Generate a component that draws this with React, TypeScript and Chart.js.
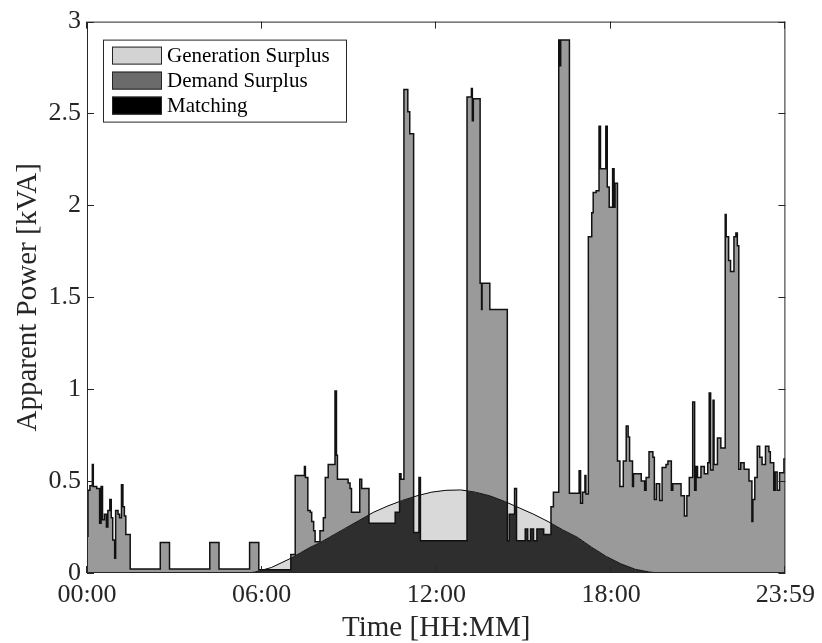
import React, { useEffect, useRef } from 'react';
import { Chart, registerables } from 'chart.js';

Chart.register(...registerables);

// Demand profile: minute of day where a new value starts (held until the next point)
const demandMinutes = [
  0, 2, 6, 11, 13, 20, 26, 29, 32, 36, 40, 43, 47, 50, 53, 57, 59, 64, 67, 71, 74, 77, 80, 89,
  151, 170, 253, 272, 335, 354,
  420, 429, 448, 450, 455, 460, 463, 467, 470, 480, 487, 491, 497, 511, 514, 516, 538, 542, 545,
  562, 566, 581, 635, 644, 647, 653, 661, 665, 673, 684, 687,
  783, 792, 794, 796, 810, 813, 814, 830, 866, 870, 881, 885, 903, 908, 914, 920, 927, 941,
  956, 961, 972, 975, 976, 994, 1014, 1017, 1021, 1026, 1028,
  1033, 1040, 1043, 1049, 1055, 1058, 1069, 1072, 1076, 1083, 1086, 1088,
  1093, 1098, 1105, 1111, 1115, 1118, 1124, 1126, 1142, 1149, 1152, 1158, 1166, 1169, 1173,
  1180, 1185, 1193, 1197, 1204, 1207, 1224, 1231, 1236, 1241, 1248, 1252, 1255, 1258, 1265,
  1272, 1279, 1282, 1285, 1290, 1292, 1299, 1306,
  1315, 1317, 1322, 1326, 1333, 1337, 1340,
  1343, 1347, 1354, 1364, 1370, 1372, 1376, 1381, 1386, 1391, 1398, 1405, 1408, 1415, 1418,
  1422, 1427, 1436, 1439,
];
const demandValues = [
  0.2, 0.45, 0.475, 0.59, 0.47, 0.46, 0.27, 0.47, 0.29, 0.32, 0.25, 0.34, 0.4, 0.3, 0.18, 0.08, 0.34, 0.32, 0.3, 0.48, 0.36, 0.31, 0.21, 0.022,
  0.166, 0.022, 0.166, 0.022, 0.166, 0.018,
  0.1, 0.53, 0.58, 0.52, 0.34, 0.33, 0.28, 0.23, 0.17, 0.23, 0.3, 0.52, 0.59, 0.99, 0.64, 0.51, 0.49, 0.46, 0.33,
  0.51, 0.46, 0.27, 0.33, 0.54, 0.51, 2.63, 2.51, 2.39, 0.22, 0.52, 0.175,
  2.59, 2.636, 2.46, 2.58, 1.576, 1.433, 1.576, 1.433, 0.175, 0.32, 0.46, 0.175, 0.24, 0.175, 0.24, 0.175, 0.24, 0.21,
  0.36, 0.44, 2.9, 2.76, 2.9, 0.434, 0.556, 0.38, 0.44, 0.53, 0.43,
  1.83, 1.96, 2.07, 2.08, 2.43, 2.2, 2.43, 2.1, 1.99, 2.2, 1.99, 2.12,
  0.61, 0.47, 0.61, 0.8, 0.74, 0.61, 0.47, 0.54, 0.5, 0.45, 0.52, 0.66, 0.63, 0.4, 0.485,
  0.395, 0.574, 0.59, 0.61, 0.45, 0.485, 0.42, 0.31, 0.42, 0.52, 0.93, 0.45, 0.58, 0.52, 0.58,
  0.54, 0.6, 0.98, 0.56, 0.94, 0.59, 0.735, 0.68,
  1.95, 1.83, 1.7, 1.64, 1.83, 1.85, 1.78,
  0.565, 0.6, 0.565, 0.5, 0.28, 0.4, 0.52, 0.69, 0.63, 0.59, 0.69, 0.66, 0.6, 0.45, 0.55,
  0.45, 0.545, 0.62, 0.62,
];

// PV generation profile
const generationMinutes = [
  0, 330, 345, 360, 380, 400, 420, 440, 460, 480, 500, 530, 560, 590, 620, 650, 680, 710, 740,
  770, 800, 830, 860, 890, 920, 950, 980, 1010, 1040, 1070, 1100, 1130, 1160, 1180, 1439,
];
const generationValues = [
  0, 0, 0.005, 0.015, 0.03, 0.055, 0.08, 0.11, 0.14, 0.165, 0.195, 0.24, 0.285, 0.33, 0.365, 0.395, 0.42, 0.44, 0.45,
  0.452, 0.44, 0.42, 0.39, 0.355, 0.32, 0.28, 0.235, 0.195, 0.14, 0.09, 0.05, 0.02, 0.005, 0, 0,
];

const xTickValues = [0, 360, 720, 1080, 1439];
const xTickLabels = ['00:00', '06:00', '12:00', '18:00', '23:59'];
const yTickValues = [0, 0.5, 1, 1.5, 2, 2.5, 3];

const legendLabels = ['Generation Surplus', 'Demand Surplus', 'Matching'];
const legendColors = ['#d3d3d3', '#6b6b6b', '#000000'];

const FONT = "'Liberation Serif', 'Times New Roman', serif";

const framePlugin = {
  id: 'frame',
  afterDatasetsDraw(chart: any) {
    const { ctx, chartArea, scales } = chart;
    const { left, right, top, bottom } = chartArea;
    ctx.save();
    ctx.strokeStyle = '#262626';
    ctx.lineWidth = 1;
    ctx.strokeRect(left + 0.5, top + 0.5, right - left - 1, bottom - top - 1);
    ctx.beginPath();
    xTickValues.forEach((v) => {
      const px = Math.round(scales.x.getPixelForValue(v)) - 0.5;
      ctx.moveTo(px, bottom);
      ctx.lineTo(px, bottom - 7);
      ctx.moveTo(px, top);
      ctx.lineTo(px, top + 7);
    });
    yTickValues.forEach((v) => {
      const py = Math.round(scales.y.getPixelForValue(v)) + 0.5;
      ctx.moveTo(left, py);
      ctx.lineTo(left + 7, py);
      ctx.moveTo(right, py);
      ctx.lineTo(right - 7, py);
    });
    ctx.stroke();
    ctx.restore();
  },
};

const legendPlugin = {
  id: 'boxLegend',
  afterDraw(chart: any) {
    const { ctx, chartArea } = chart;
    const bx = chartArea.left + 16;
    const by = chartArea.top + 18;
    const bw = 244;
    const bh = 83;
    ctx.save();
    ctx.fillStyle = '#ffffff';
    ctx.fillRect(bx, by, bw, bh);
    ctx.strokeStyle = '#262626';
    ctx.lineWidth = 1;
    ctx.strokeRect(bx + 0.5, by + 0.5, bw - 1, bh - 1);
    ctx.font = `21px ${FONT}`;
    ctx.textBaseline = 'middle';
    ctx.textAlign = 'left';
    legendLabels.forEach((label, i) => {
      const cy = by + 16 + i * 25;
      ctx.fillStyle = legendColors[i];
      ctx.fillRect(bx + 9, cy - 9, 50, 18);
      ctx.strokeStyle = '#262626';
      ctx.strokeRect(bx + 9.5, cy - 8.5, 49, 17);
      ctx.fillStyle = '#000000';
      ctx.fillText(label, bx + 64, cy + 1);
    });
    ctx.restore();
  },
};

export default function App() {
  const canvasRef = useRef<HTMLCanvasElement | null>(null);

  useEffect(() => {
    if (!canvasRef.current) return;
    const demand = demandMinutes.map((m, i) => ({ x: m, y: demandValues[i] }));
    const generation = generationMinutes.map((m, i) => ({ x: m, y: generationValues[i] }));

    const chart = new Chart(canvasRef.current, {
      type: 'line',
      data: {
        datasets: [
          {
            label: 'Generation line',
            data: generation,
            borderColor: '#111111',
            borderWidth: 1,
            pointRadius: 0,
            fill: false,
            tension: 0,
          },
          {
            label: 'Demand',
            data: demand,
            stepped: true,
            borderColor: '#111111',
            borderWidth: 1.5,
            pointRadius: 0,
            backgroundColor: '#9a9a9a',
            fill: { target: 2, above: '#9a9a9a', below: '#d9d9d9' },
          },
          {
            label: 'Matching',
            data: generation,
            borderColor: 'rgba(0,0,0,0)',
            borderWidth: 0,
            pointRadius: 0,
            backgroundColor: '#2e2e2e',
            fill: 'origin',
            tension: 0,
          },
        ],
      },
      options: {
        animation: false,
        responsive: false,
        devicePixelRatio: 1,
        layout: { padding: { top: 15, right: 32, left: 0, bottom: 0 } },
        plugins: {
          legend: { display: false },
          tooltip: { enabled: false },
        },
        scales: {
          x: {
            type: 'linear',
            min: 0,
            max: 1439,
            grid: { display: false, drawTicks: false },
            border: { display: false },
            afterBuildTicks: (scale: any) => {
              scale.ticks = xTickValues.map((v) => ({ value: v }));
            },
            afterFit: (scale: any) => {
              scale.height = 70;
            },
            ticks: {
              autoSkip: false,
              maxRotation: 0,
              padding: 7,
              color: '#262626',
              font: { family: FONT, size: 26 },
              callback: (v: any) => {
                const i = xTickValues.indexOf(Number(v));
                return i >= 0 ? xTickLabels[i] : '';
              },
            },
            title: {
              display: true,
              text: 'Time [HH:MM]',
              color: '#262626',
              font: { family: FONT, size: 29, lineHeight: 1 },
              padding: { top: 0, bottom: 0 },
            },
          },
          y: {
            type: 'linear',
            min: 0,
            max: 3,
            grid: { display: false, drawTicks: false },
            border: { display: false },
            afterBuildTicks: (scale: any) => {
              scale.ticks = yTickValues.map((v) => ({ value: v }));
            },
            afterFit: (scale: any) => {
              scale.width = 87;
            },
            ticks: {
              autoSkip: false,
              padding: 6,
              color: '#262626',
              font: { family: FONT, size: 26 },
              callback: (v: any) => String(v),
            },
            title: {
              display: true,
              text: 'Apparent Power [kVA]',
              color: '#262626',
              font: { family: FONT, size: 29, lineHeight: 1 },
              padding: { top: 14, bottom: 0 },
            },
          },
        },
      },
      plugins: [framePlugin, legendPlugin],
    } as any);

    return () => chart.destroy();
  }, []);

  return (
    <div style={{ position: 'absolute', left: 0, top: 0, width: 822, height: 643, background: '#ffffff' }}>
      <canvas ref={canvasRef} width={822} height={643} style={{ display: 'block' }} />
    </div>
  );
}
